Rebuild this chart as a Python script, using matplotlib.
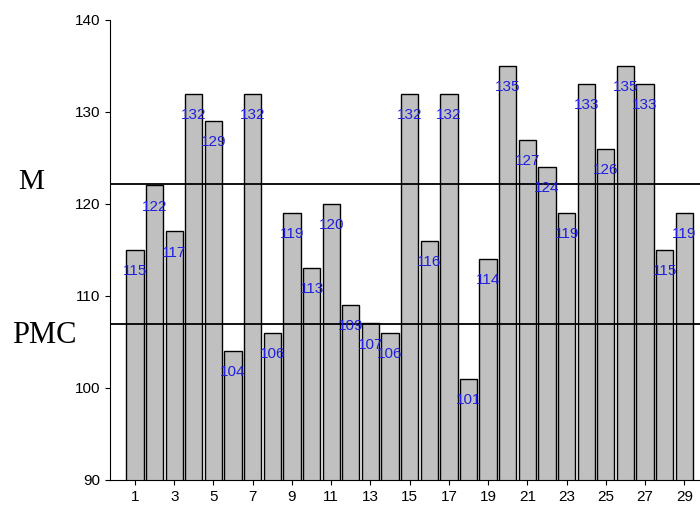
import matplotlib
matplotlib.use("Agg")
import matplotlib.pyplot as plt

cases = list(range(1, 30))
values = [115,122,117,132,129,104,132,106,119,113,120,109,107,106,132,116,132,101,114,135,127,124,119,133,126,135,133,115,119]
m_line = 122.2
pmc_line = 106.9

plt.rcParams['font.family'] = ['Liberation Sans', 'DejaVu Sans']
fig = plt.figure(figsize=(7, 5.11), dpi=100)
ax = fig.add_axes([0.157, 0.061, 0.843, 0.9])
ax.bar(cases, values, width=0.88, color="#c0c0c0", edgecolor="black", linewidth=1)
for c, v in zip(cases, values):
    ax.text(c, v - 2.3, str(v), color="#1f1fdd", fontsize=11, ha="center", va="center")
ax.axhline(m_line, color="black", lw=1.3)
ax.axhline(pmc_line, color="black", lw=1.3)
ax.set_ylim(90, 140)
ax.set_xlim(-0.28, 29.8)
ax.set_xticks(range(1, 30, 2))
ax.set_yticks(range(90, 141, 10))
ax.tick_params(labelsize=11)
ax.spines["top"].set_visible(False)
ax.spines["right"].set_visible(False)
fig.text(0.045, 1 - 182/511, "M", fontsize=21, family="Liberation Serif", ha="center", va="center")
fig.text(0.064, 1 - 335/511, "PMC", fontsize=22, family="Liberation Serif", ha="center", va="center")
fig.savefig("out.png")
